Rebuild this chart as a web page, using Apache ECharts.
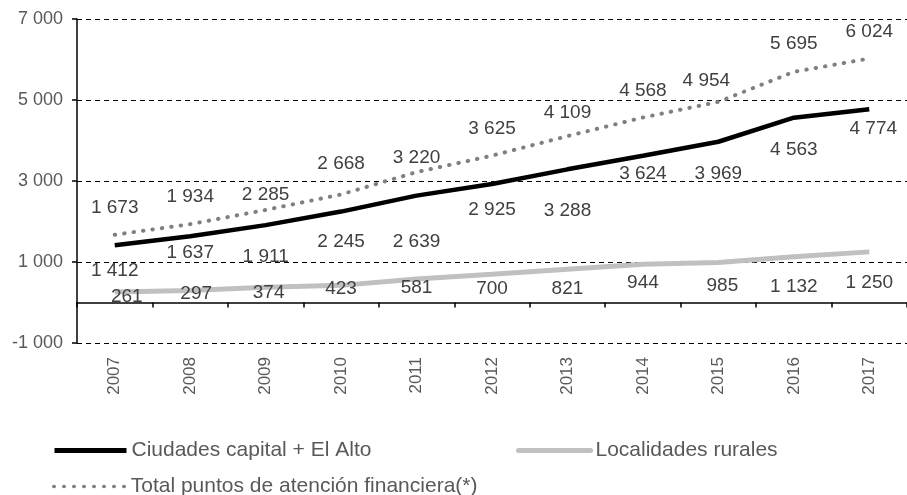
<!DOCTYPE html>
<html>
<head>
<meta charset="utf-8">
<script src="https://cdn.jsdelivr.net/npm/echarts@6/dist/echarts.min.js"></script>
<style>
  html, body { margin: 0; padding: 0; background: #fff; }
  #chart { width: 907px; height: 495px; }
</style>
</head>
<body>
<div id="chart"></div>
<script>
// datos
const years = ['2007', '2008', '2009', '2010', '2011', '2012', '2013', '2014', '2015', '2016', '2017'];
const ciudades = [1412, 1637, 1911, 2245, 2639, 2925, 3288, 3624, 3969, 4563, 4774];
const rurales = [261, 297, 374, 423, 581, 700, 821, 944, 985, 1132, 1250];
const total = [1673, 1934, 2285, 2668, 3220, 3625, 4109, 4568, 4954, 5695, 6024];
const yTicks = [-1000, 1000, 3000, 5000, 7000];

// desplazamiento de etiquetas (como en el original, colocadas a mano)
const shiftCiudades = [[0, 25], [0, 17], [0, 32], [0, 30], [0, 46], [0, 26], [0, 41], [0, 18], [0, 32], [0, 32], [4, 20]];
const shiftTotal = [[0, -27], [0, -27], [0, -15], [0, -31], [0, -14], [0, -27], [0, -23], [0, -27], [-12, -21], [0, -28], [0, -27]];
const shiftRurales = [[12, 5], [6, 3], [3, 5], [0, 3], [0, 9], [0, 15], [0, 20], [0, 18], [4, 23], [0, 30], [0, 31]];

const fmt = v => String(v).replace(/\B(?=(\d{3})+(?!\d))/g, ' ');
const font = 'Liberation Sans, Arial, sans-serif';

function withLabels(values, shifts) {
    return values.map((v, i) => ({
        value: v,
        label: { offset: shifts[i] }
    }));
}

const labelBase = {
    show: true,
    position: 'inside',
    color: '#404040',
    fontSize: 19,
    fontFamily: font,
    formatter: p => fmt(p.value)
};

const legendText = { color: '#595959', fontSize: 21, fontFamily: font };

const chart = echarts.init(document.getElementById('chart'));
chart.setOption({
    animation: false,
    grid: { left: 77, right: -9, top: 19, bottom: 152 },
    legend: [
        {
            left: 47, top: 435, itemWidth: 72, itemHeight: 20, itemGap: 0,
            itemStyle: { opacity: 0 },
            lineStyle: { width: 5 },
            data: ['Ciudades capital + El Alto'],
            textStyle: legendText
        },
        {
            left: 511, top: 435, itemWidth: 72, itemHeight: 20, itemGap: 0,
            itemStyle: { opacity: 0 },
            lineStyle: { width: 5, cap: 'round' },
            data: ['Localidades rurales'],
            textStyle: legendText
        },
        {
            left: 47, top: 471, itemWidth: 72, itemHeight: 20, itemGap: 0,
            itemStyle: { opacity: 0 },
            lineStyle: { width: 3.5, type: [0.5, 9.5], cap: 'round' },
            data: ['Total puntos de atención financiera(*)'],
            textStyle: legendText
        }
    ],
    xAxis: [
        {
            type: 'category',
            data: years,
            boundaryGap: true,
            axisLine: { onZero: true, lineStyle: { color: '#000', width: 1.5 } },
            axisTick: { show: true, length: 5, lineStyle: { color: '#000', width: 1.5 } },
            axisLabel: { show: false }
        },
        {
            type: 'category',
            data: years,
            position: 'bottom',
            axisLine: { show: false, onZero: false },
            axisTick: { show: false },
            axisLabel: {
                rotate: 90,
                margin: 14,
                color: '#595959',
                fontSize: 17,
                fontFamily: font
            }
        }
    ],
    yAxis: {
        type: 'value',
        min: yTicks[0],
        max: yTicks[yTicks.length - 1],
        interval: 2000,
        axisLine: { show: true, lineStyle: { color: '#000', width: 1.5 } },
        axisTick: { show: true, length: 5, lineStyle: { color: '#000', width: 1.5 } },
        axisLabel: {
            margin: 14,
            color: '#595959',
            fontSize: 18,
            fontFamily: font,
            formatter: v => fmt(v)
        },
        splitLine: {
            show: true,
            lineStyle: { color: '#000', width: 1.2, type: [5, 4] }
        }
    },
    series: [
        {
            name: 'Ciudades capital + El Alto',
            type: 'line',
            symbol: 'circle',
            symbolSize: 0,
            showSymbol: true,
            data: withLabels(ciudades, shiftCiudades),
            lineStyle: { color: '#000', width: 4.5 },
            itemStyle: { color: '#000' },
            label: labelBase,
            z: 3
        },
        {
            name: 'Localidades rurales',
            type: 'line',
            symbol: 'circle',
            symbolSize: 0,
            showSymbol: true,
            data: withLabels(rurales, shiftRurales),
            lineStyle: { color: '#c0c0c0', width: 5 },
            itemStyle: { color: '#c0c0c0' },
            label: labelBase,
            z: 2
        },
        {
            name: 'Total puntos de atención financiera(*)',
            type: 'line',
            symbol: 'circle',
            symbolSize: 0,
            showSymbol: true,
            data: withLabels(total, shiftTotal),
            lineStyle: { color: '#808080', width: 4, type: [0.5, 9], cap: 'round' },
            itemStyle: { color: '#808080' },
            label: labelBase,
            z: 2
        }
    ]
});
</script>
</body>
</html>
